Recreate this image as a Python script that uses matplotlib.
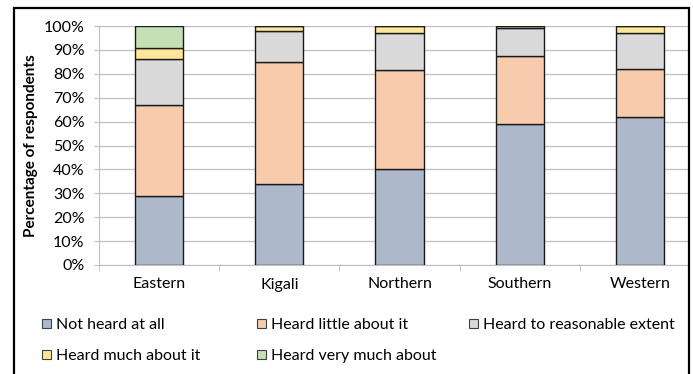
import matplotlib
matplotlib.use("Agg")
import matplotlib.pyplot as plt
from matplotlib.patches import Rectangle, Patch
import numpy as np

plt.rcParams['font.family'] = ['Lato', 'DejaVu Sans']

regions = ["Eastern", "Kigali", "Northern", "Southern", "Western"]
series_names = ["Not heard at all", "Heard little about it",
                "Heard to reasonable extent", "Heard much about it",
                "Heard very much about"]
not_heard = [29, 34, 40, 59, 62]
heard_little = [38, 51, 41.5, 28.5, 20]
reasonable = [19, 13, 15.5, 11.5, 15]
heard_much = [5, 2, 3, 1, 3]
very_much = [9, 0, 0, 0, 0]
y_ticks = [0, 10, 20, 30, 40, 50, 60, 70, 80, 90, 100]

colors = ["#ADB9CA", "#F8CBAD", "#D9D9D9", "#FFE699", "#C5E0B4"]
series = [not_heard, heard_little, reasonable, heard_much, very_much]

fig = plt.figure(figsize=(6.93, 3.74), dpi=100)
ax = fig.add_axes([99 / 693, 1 - 265 / 374, (688 - 99) / 693, (265 - 26) / 374])

x = np.arange(len(regions))
bottom = np.zeros(len(regions))
for vals, col in zip(series, colors):
    vals = np.array(vals, dtype=float)
    ax.bar(x, vals, width=0.4, bottom=bottom, color=col,
           edgecolor="#1a1a1a", linewidth=1.0, zorder=3)
    bottom += vals

ax.set_ylim(0, 100)
ax.set_xlim(-0.5, 4.4)
ax.set_yticks(y_ticks)
ax.set_yticklabels([f"{v}%" for v in y_ticks])
ax.set_xticks(x)
ax.set_xticklabels(regions)
ax.set_xticks(np.arange(-0.5, 4.5, 1.0), minor=True)
ax.tick_params(axis="x", which="major", length=0, pad=9, labelsize=11.5)
ax.tick_params(axis="x", which="minor", length=4, color="#BFBFBF")
ax.tick_params(axis="y", length=3.5, color="#BFBFBF", labelsize=11.5, pad=7)
ax.grid(axis="y", color="#BFBFBF", linewidth=0.9, zorder=0)
for side in ["top", "right"]:
    ax.spines[side].set_visible(False)
ax.spines["bottom"].set_color("#BFBFBF")
ax.spines["left"].set_color("#BFBFBF")
ax.set_ylabel("Percentage of respondents", fontsize=11, fontweight="bold",
              labelpad=4)

# legend: one entry per slot, laid out in two rows
slots = [(42, 325), (257, 325), (469, 325), (42, 356), (257, 356)]
for name, col, (px, py) in zip(series_names, colors, slots):
    h = Patch(facecolor=col, edgecolor="#404040", linewidth=0.8)
    fig.legend([h], [name], loc="center left",
               bbox_to_anchor=(px / 693, 1 - py / 374),
               frameon=False, fontsize=11.5, handlelength=0.55,
               handleheight=0.55, handletextpad=0.35, borderpad=0,
               borderaxespad=0)

# outer frame around the chart
fig.patches.append(Rectangle((14 / 693, -0.05), (689 - 14) / 693, 1.05 - 8 / 374,
                             transform=fig.transFigure, fill=False,
                             edgecolor="black", linewidth=1.6))

fig.savefig("out.png", dpi=100)
